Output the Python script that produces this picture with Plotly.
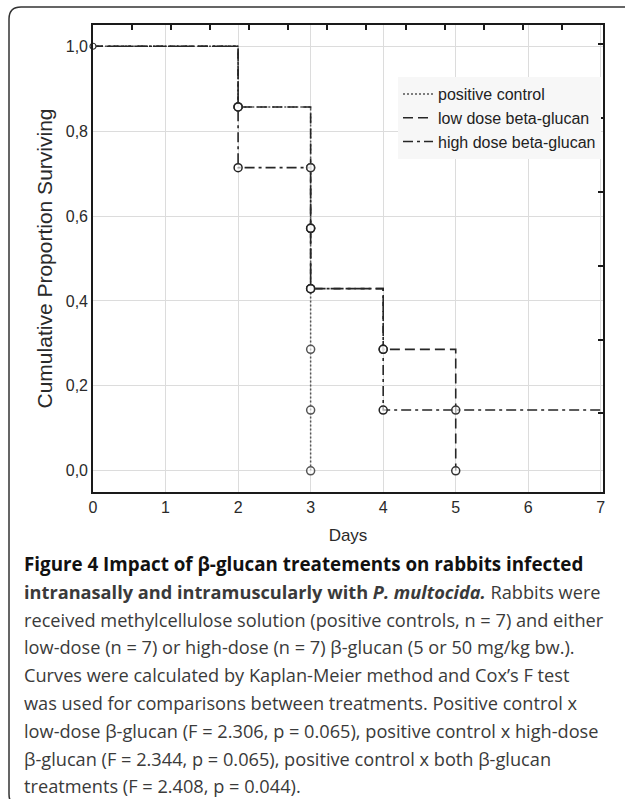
import plotly.graph_objects as go

# ---- data (Kaplan-Meier step curves) ----
series_names = ["positive control", "low dose beta-glucan", "high dose beta-glucan"]

pc_days = [0, 2, 3]
pc_surv = [1.0, 0.857, 0.0]
low_days = [0, 2, 3, 4, 5]
low_surv = [1.0, 0.857, 0.429, 0.286, 0.0]
high_days = [0, 2, 3, 4, 7]
high_surv = [1.0, 0.714, 0.429, 0.143, 0.143]

# circles at death events
pc_evt_days = [2, 3, 3, 3, 3, 3, 3]
pc_evt_surv = [0.857, 0.714, 0.571, 0.429, 0.286, 0.143, 0.0]
low_evt_days = [2, 3, 3, 3, 4, 5, 5]
low_evt_surv = [0.857, 0.714, 0.571, 0.429, 0.286, 0.143, 0.0]
high_evt_days = [2, 2, 3, 3, 4, 4]
high_evt_surv = [0.857, 0.714, 0.571, 0.429, 0.286, 0.143]
start_day = [0]
start_surv = [1.0]

x_ticks = [0, 1, 2, 3, 4, 5, 6, 7]
y_ticks = [0.0, 0.2, 0.4, 0.6, 0.8, 1.0]
top_minor = [k * 7 / 13 for k in range(1, 13)]
right_minor = [1.005, 0.831, 0.657, 0.483, 0.309, 0.135]

caption_lines = [
    "<b>Figure 4 Impact of β-glucan treatements on rabbits infected</b>",
    "<b>intranasally and intramuscularly with <i>P. multocida.</i></b> Rabbits were",
    "received methylcellulose solution (positive controls, n = 7) and either",
    "low-dose (n = 7) or high-dose (n = 7) β-glucan (5 or 50 mg/kg bw.).",
    "Curves were calculated by Kaplan-Meier method and Cox’s F test",
    "was used for comparisons between treatments. Positive control x",
    "low-dose β-glucan (F = 2.306, p = 0.065), positive control x high-dose",
    "β-glucan (F = 2.344, p = 0.065), positive control x both β-glucan",
    "treatments (F = 2.408, p = 0.044).",
]

W, H = 625, 799
L, R, T, B = 93, 22, 25, 307
PW, PH = W - L - R, H - T - B


def px(xp):
    return (xp - L) / PW


def py(yp):
    return (H - B - yp) / PH


LINE = "#262626"
fig = go.Figure()

styles = [
    dict(color="#555555", width=1.5, dash="2px,2px"),
    dict(color=LINE, width=1.6, dash="10px,5px"),
    dict(color=LINE, width=1.6, dash="10px,4px,3px,4px"),
]
for name, d, s, st in zip(series_names,
                          [pc_days, low_days, high_days],
                          [pc_surv, low_surv, high_surv], styles):
    fig.add_trace(go.Scatter(x=d, y=s, mode="lines", line_shape="hv",
                             line=st, name=name, showlegend=True,
                             hoverinfo="skip"))

for d, s, c in [(pc_evt_days, pc_evt_surv, "#555555"),
                (low_evt_days, low_evt_surv, "#333333"),
                (high_evt_days, high_evt_surv, "#222222")]:
    fig.add_trace(go.Scatter(x=d, y=s, mode="markers", showlegend=False,
                             marker=dict(symbol="circle", size=8, color="rgba(255,255,255,0.6)",
                                         line=dict(color=c, width=1.5)),
                             hoverinfo="skip"))
fig.add_trace(go.Scatter(x=start_day, y=start_surv, mode="markers", showlegend=False,
                         cliponaxis=False,
                         marker=dict(symbol="circle", size=6, color="white",
                                     line=dict(color="#333333", width=1.2)),
                         hoverinfo="skip"))

tick_font = dict(family="Liberation Sans, Arial", size=16, color="#2a2a2a")
title_font = dict(family="Liberation Sans, Arial", size=21, color="#2a2a2a")
fig.update_layout(
    width=W, height=H,
    margin=dict(l=L, r=R, t=T, b=B),
    paper_bgcolor="white", plot_bgcolor="white",
    separators=",.",
    font=tick_font,
    xaxis=dict(range=[0, 7.03], tickvals=x_ticks, ticks="", showgrid=True,
               gridcolor="#dcdcdc", gridwidth=1, zeroline=False,
               showline=True, linecolor="#1a1a1a", linewidth=1.6, mirror=True,
               tickfont=tick_font,
               title=dict(text="Days", font=dict(tick_font, size=17), standoff=14)),
    yaxis=dict(range=[-0.05, 1.05], tickvals=y_ticks, tickformat=".1f", ticks="",
               showgrid=True, gridcolor="#dcdcdc", gridwidth=1, zeroline=False,
               showline=True, linecolor="#1a1a1a", linewidth=1.6, mirror=True,
               tickfont=tick_font,
               title=dict(text="Cumulative Proportion Surviving", font=title_font, standoff=7)),
    xaxis2=dict(overlaying="x", side="top", range=[0, 7.03], tickvals=top_minor,
                ticks="inside", ticklen=5, tickwidth=1.5, tickcolor="#1a1a1a",
                showticklabels=False, showgrid=False, zeroline=False, showline=False),
    yaxis2=dict(overlaying="y", side="right", range=[-0.05, 1.05], tickvals=right_minor,
                ticks="inside", ticklen=5, tickwidth=1.5, tickcolor="#1a1a1a",
                showticklabels=False, showgrid=False, zeroline=False, showline=False),
    legend=dict(x=px(601), y=py(77), xanchor="right", yanchor="top",
                bgcolor="#f7f7f7", borderwidth=0, tracegroupgap=0,
                font=dict(family="Liberation Sans, Arial", size=16, color="#222222"),
                itemwidth=30),
    showlegend=True,
)

# dummy trace to activate secondary axes
fig.add_trace(go.Scatter(x=[None], y=[None], xaxis="x2", yaxis="y2", showlegend=False))

# outer rounded frame (left + top edges, bottom-left corner)
r = 12
x0, y0, x1, y1 = 9, 7, 640, 806
path = (f"M {px(x1)},{py(y0)} L {px(x0 + r)},{py(y0)} "
        f"Q {px(x0)},{py(y0)} {px(x0)},{py(y0 + r)} "
        f"L {px(x0)},{py(y1 - r)} Q {px(x0)},{py(y1)} {px(x0 + r)},{py(y1)} "
        f"L {px(x1)},{py(y1)}")
fig.add_shape(type="path", path=path, xref="paper", yref="paper",
              line=dict(color="#333333", width=1.5))

cap_top = 564
cap_step = 27.8
for i, txt in enumerate(caption_lines):
    fig.add_annotation(x=px(22), y=py(cap_top + i * cap_step), xref="paper", yref="paper",
                       text=txt, showarrow=False, xanchor="left", yanchor="middle",
                       font=dict(family="Open Sans", size=18.8 if i == 0 else 18.2,
                                 color="#111111" if i == 0 else "#3a3a3a"))

fig.write_html("out.html", config={"displayModeBar": False},
               post_script="document.body.style.margin='0px';")
